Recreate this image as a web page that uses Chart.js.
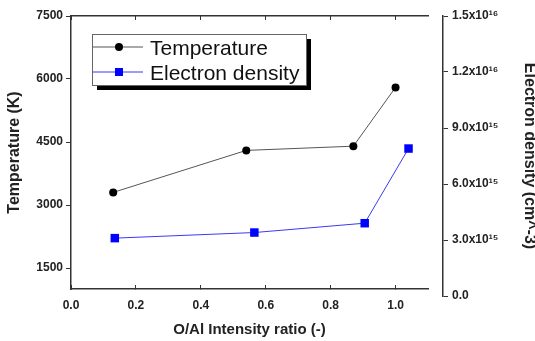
<!DOCTYPE html>
<html>
<head>
<meta charset="utf-8">
<script src="https://cdn.jsdelivr.net/npm/chart.js@4.4.0/dist/chart.umd.min.js"></script>
<style>
  html, body { margin: 0; padding: 0; background: #fff; }
  canvas { display: block; }
</style>
</head>
<body>
<canvas id="grafico" width="535" height="341"></canvas>
<script>
// Dados
const tempRatio = [0.13, 0.54, 0.87, 1.0];
const temperature = [3300, 4300, 4400, 5800];
const densRatio = [0.135, 0.565, 0.905, 1.04];
const density = [3.1e15, 3.4e15, 3.9e15, 7.9e15];

// Ticks dos eixos
const ratioTicks = [0.0, 0.2, 0.4, 0.6, 0.8, 1.0];
const tempTicks = [1500, 3000, 4500, 6000, 7500];
const densTicks = [0, 3e15, 6e15, 9e15, 1.2e16, 1.5e16];

const FONT = 'Arial, "Liberation Sans", sans-serif';
const AXIS = '#333';

// 1.5x10¹⁶ style labels
const sup = { '0': '⁰', '1': '¹', '2': '²', '3': '³', '4': '⁴', '5': '⁵', '6': '⁶', '7': '⁷', '8': '⁸', '9': '⁹' };
function sci(v) {
    if (v === 0) return '0.0';
    const e = Math.floor(Math.log10(v) + 1e-9);
    const m = v / Math.pow(10, e);
    return m.toFixed(1) + 'x10' + String(e).split('').map(d => sup[d]).join('');
}

const setTicks = arr => scale => { scale.ticks = arr.map(v => ({ value: v })); };

// o eixo da direita fica deslocado do quadro, como no original
const offsetAxis = {
    id: 'offsetAxis',
    afterLayout(chart) {
        const r = chart.scales.y1;
        r.left += 15;
        r.right += 2;
        r.bottom += 7;
        r.configure();
    }
};

// legenda com caixa e sombra
const boxLegend = {
    id: 'boxLegend',
    afterDatasetsDraw(chart) {
        const c = chart.ctx;
        const x = 92, y = 34, w = 214, h = 51;
        c.save();
        c.fillStyle = '#000';
        c.fillRect(x + 5, y + 5, w, h);
        c.fillStyle = '#fff';
        c.fillRect(x, y, w, h);
        c.strokeStyle = '#666';
        c.lineWidth = 1;
        c.strokeRect(x + 0.5, y + 0.5, w, h);
        chart.data.datasets.forEach((ds, i) => {
            const cy = 47 + i * 25;
            c.strokeStyle = ds.borderColor;
            c.lineWidth = 1;
            c.beginPath();
            c.moveTo(x + 1, cy);
            c.lineTo(x + 51, cy);
            c.stroke();
            c.fillStyle = ds.pointBackgroundColor;
            if (ds.pointStyle === 'rect') {
                c.fillRect(x + 27 - 4, cy - 4, 8, 8);
            } else {
                c.beginPath();
                c.arc(x + 27, cy, 4, 0, Math.PI * 2);
                c.fill();
            }
            c.fillStyle = '#111';
            c.font = '21px ' + FONT;
            c.textBaseline = 'alphabetic';
            c.fillText(ds.label, x + 58, cy + 8);
        });
        c.restore();
    }
};

const ctx = document.getElementById('grafico').getContext('2d');

new Chart(ctx, {
    type: 'line',
    data: {
        datasets: [{
            label: 'Temperature',
            data: tempRatio.map((r, i) => ({ x: r, y: temperature[i] })),
            yAxisID: 'y',
            borderColor: '#555',
            borderWidth: 1,
            pointStyle: 'circle',
            pointRadius: 4,
            pointBackgroundColor: '#000',
            pointBorderWidth: 0
        }, {
            label: 'Electron density',
            data: densRatio.map((r, i) => ({ x: r, y: density[i] })),
            yAxisID: 'y1',
            borderColor: '#3a3af0',
            borderWidth: 1,
            pointStyle: 'rect',
            pointRadius: 6,
            pointBackgroundColor: '#0000ff',
            pointBorderWidth: 0
        }]
    },
    options: {
        responsive: false,
        animation: false,
        layout: { padding: { top: 16, left: 0, right: 0, bottom: 0 } },
        plugins: {
            legend: { display: false },
            tooltip: { enabled: false }
        },
        scales: {
            x: {
                type: 'linear',
                position: 'bottom',
                min: 0,
                max: 1.1,
                afterBuildTicks: setTicks(ratioTicks),
                afterFit: s => { s.height = 52; },
                grid: { drawOnChartArea: false, tickLength: -4, color: AXIS, lineWidth: 1 },
                border: { color: AXIS, width: 1.5 },
                ticks: {
                    padding: 13,
                    color: '#222',
                    font: { family: FONT, size: 12, weight: 'bold' },
                    callback: v => v.toFixed(1)
                },
                title: {
                    display: true,
                    text: 'O/Al Intensity ratio (-)',
                    color: '#222',
                    padding: { bottom: 2 },
                    font: { family: FONT, size: 15, weight: 'bold' }
                }
            },
            x2: {
                type: 'linear',
                position: 'top',
                min: 0,
                max: 1.1,
                afterBuildTicks: setTicks(ratioTicks),
                afterFit: s => { s.height = 0; },
                grid: { drawOnChartArea: false, tickLength: -4, color: AXIS, lineWidth: 1 },
                border: { color: AXIS, width: 1.5 },
                ticks: { display: false }
            },
            y: {
                type: 'linear',
                position: 'left',
                min: 1000,
                max: 7500,
                afterBuildTicks: setTicks(tempTicks),
                afterFit: s => { s.width = 71; },
                grid: { drawOnChartArea: false, tickLength: 5, color: AXIS, lineWidth: 1 },
                border: { color: AXIS, width: 1.5 },
                ticks: {
                    padding: 3,
                    color: '#222',
                    font: { family: FONT, size: 12, weight: 'bold' },
                    callback: v => String(v)
                },
                title: {
                    display: true,
                    text: 'Temperature (K)',
                    color: '#222',
                    padding: { top: 5 },
                    font: { family: FONT, size: 16, weight: 'bold' }
                }
            },
            y1: {
                type: 'linear',
                position: 'right',
                min: 0,
                max: 1.5e16,
                afterBuildTicks: setTicks(densTicks),
                afterFit: s => { s.width = 107; },
                grid: { drawOnChartArea: false, tickLength: 5, color: AXIS, lineWidth: 1 },
                border: { color: AXIS, width: 1.5 },
                ticks: {
                    padding: 4,
                    color: '#222',
                    font: { family: FONT, size: 12, weight: 'bold' },
                    callback: v => sci(v)
                },
                title: {
                    display: true,
                    text: 'Electron density (cm^-3)',
                    color: '#222',
                    padding: { top: 0 },
                    font: { family: FONT, size: 16, weight: 'bold', lineHeight: 1 }
                }
            }
        }
    },
    plugins: [offsetAxis, boxLegend]
});
</script>
</body>
</html>
